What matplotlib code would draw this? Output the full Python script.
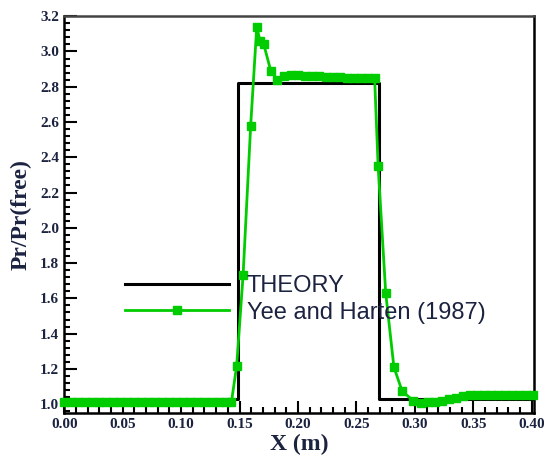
import numpy as np
import matplotlib
matplotlib.use('Agg')
from matplotlib import pyplot as plt
from matplotlib.ticker import MultipleLocator, FormatStrFormatter

# theory step profile
theory_x = [0.0, 0.149, 0.149, 0.269, 0.269, 0.40]
theory_y = [1.03, 1.03, 2.82, 2.82, 1.03, 1.03]

# Yee and Harten (1987)
yee_x = [0.000, 0.006, 0.012, 0.018, 0.024, 0.030, 0.036, 0.042, 0.048, 0.054,
         0.060, 0.066, 0.072, 0.078, 0.084, 0.090, 0.096, 0.102, 0.108, 0.114,
         0.120, 0.126, 0.132, 0.138, 0.143, 0.1475, 0.153, 0.1595, 0.1647, 0.1675,
         0.1707, 0.1767, 0.182, 0.188, 0.194, 0.200, 0.206, 0.212, 0.218, 0.224,
         0.230, 0.236, 0.242, 0.248, 0.254, 0.260, 0.2655, 0.2685, 0.275, 0.282,
         0.289, 0.2985, 0.305, 0.311, 0.317, 0.323, 0.329, 0.335, 0.341, 0.347,
         0.353, 0.359, 0.365, 0.371, 0.377, 0.383, 0.389, 0.395, 0.401]
yee_y = [1.01, 1.01, 1.01, 1.01, 1.01, 1.01, 1.01, 1.01, 1.01, 1.01,
         1.01, 1.01, 1.01, 1.01, 1.01, 1.01, 1.01, 1.01, 1.01, 1.01,
         1.01, 1.01, 1.01, 1.01, 1.01, 1.217, 1.73, 2.58, 3.14, 3.06,
         3.04, 2.89, 2.84, 2.86, 2.865, 2.865, 2.86, 2.86, 2.86, 2.855,
         2.855, 2.855, 2.85, 2.85, 2.85, 2.85, 2.85, 2.35, 1.63, 1.21,
         1.075, 1.02, 1.005, 1.01, 1.015, 1.02, 1.03, 1.035, 1.045, 1.05,
         1.05, 1.05, 1.05, 1.05, 1.05, 1.05, 1.05, 1.05, 1.05]

green = '#00cc00'
navy = '#1c2340'

fig = plt.figure(figsize=(5.44, 4.62), dpi=100)
ax = fig.add_axes([0.118, 0.106, 0.864, 0.859])

ax.plot(theory_x, theory_y, color='black', lw=2.2, label='THEORY', zorder=2)
ax.plot(yee_x, yee_y, color=green, lw=2, marker='s', markersize=6.3,
        label='Yee and Harten (1987)', zorder=3, clip_on=False)

ax.set_xlim(0, 0.402)
ax.set_ylim(0.95, 3.2)

ax.xaxis.set_major_locator(MultipleLocator(0.05))
ax.xaxis.set_minor_locator(MultipleLocator(0.01))
ax.yaxis.set_major_locator(MultipleLocator(0.2))
ax.yaxis.set_minor_locator(MultipleLocator(0.04))
ax.xaxis.set_major_formatter(FormatStrFormatter('%.2f'))
ax.yaxis.set_major_formatter(FormatStrFormatter('%.1f'))

ax.tick_params(which='both', direction='in', top=False, right=False,
               width=1.5, colors='black', labelcolor=navy)
ax.tick_params(which='major', length=9)
ax.tick_params(which='minor', length=4.5)
for lab in ax.get_xticklabels() + ax.get_yticklabels():
    lab.set_family('Liberation Serif')
    lab.set_weight('bold')
    lab.set_fontsize(11)

for sp in ax.spines.values():
    sp.set_linewidth(1.8)
ax.spines['top'].set_color('#444444')

ax.set_xlabel('X (m)', family='Liberation Serif', weight='bold', fontsize=17,
              color=navy, labelpad=2)
ax.set_ylabel('Pr/Pr(free)', family='Liberation Serif', weight='bold', fontsize=17,
              color=navy, labelpad=6)

ax.legend(loc='upper left', bbox_to_anchor=(0.13, 0.347), frameon=False,
          prop={'family': 'Liberation Sans', 'size': 17}, handlelength=4.4,
          handletextpad=0.75, labelspacing=0.18, borderpad=0, borderaxespad=0,
          numpoints=1, labelcolor=navy)

fig.savefig('out.png', dpi=100)
